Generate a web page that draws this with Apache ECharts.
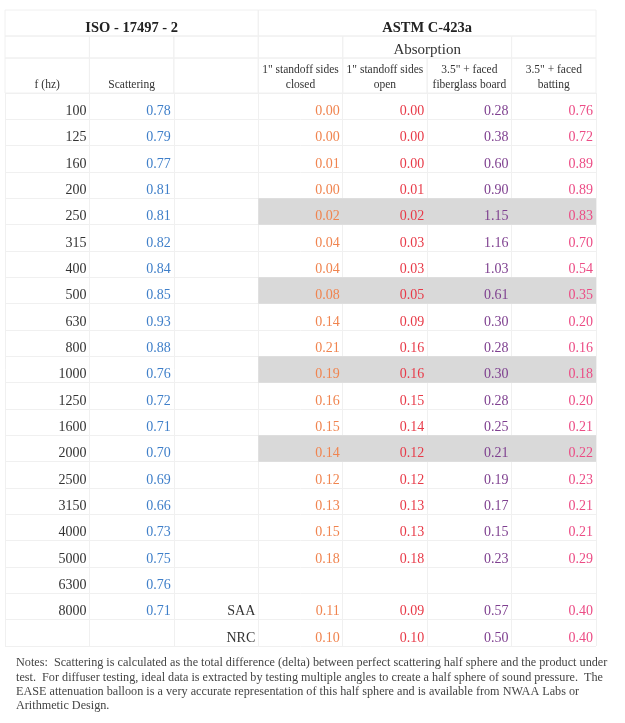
<!DOCTYPE html>
<html><head><meta charset="utf-8">
<script src="https://cdn.jsdelivr.net/npm/echarts@6.0.0/dist/echarts.min.js"></script>
<style>html,body{margin:0;padding:0;background:#fff}#c{width:625px;height:723px}</style>
</head><body><div id="c"></div>
<script>
// ---------- data ----------
const frequencies = ['100','125','160','200','250','315','400','500','630','800','1000','1250','1600','2000','2500','3150','4000','5000','6300','8000',''];
const scattering = [0.78,0.79,0.77,0.81,0.81,0.82,0.84,0.85,0.93,0.88,0.76,0.72,0.71,0.70,0.69,0.66,0.73,0.75,0.76,0.71,null];
const summaryLabels = ['','','','','','','','','','','','','','','','','','','','SAA','NRC'];
const standoffClosed = [0.00,0.00,0.01,0.00,0.02,0.04,0.04,0.08,0.14,0.21,0.19,0.16,0.15,0.14,0.12,0.13,0.15,0.18,null,0.11,0.10];
const standoffOpen   = [0.00,0.00,0.00,0.01,0.02,0.03,0.03,0.05,0.09,0.16,0.16,0.15,0.14,0.12,0.12,0.13,0.13,0.18,null,0.09,0.10];
const fiberglassBoard= [0.28,0.38,0.60,0.90,1.15,1.16,1.03,0.61,0.30,0.28,0.30,0.28,0.25,0.21,0.19,0.17,0.15,0.23,null,0.57,0.50];
const facedBatting   = [0.76,0.72,0.89,0.89,0.83,0.70,0.54,0.35,0.20,0.16,0.18,0.20,0.21,0.22,0.23,0.21,0.21,0.29,null,0.40,0.40];
const highlightedRows = ['250','500','1000','2000'];
// header cells: [text, firstColumn, endColumn]
const headerRow1 = [['ISO - 17497 - 2',0,3],['ASTM C-423a',3,7]];
const headerRow2 = [['',0,1],['',1,2],['',2,3],['',3,4],['Absorption',4,6],['',6,7]];
const headerRow3 = [['f (hz)',0,1],['Scattering',1,2],['',2,3],['1" standoff sides\nclosed',3,4],['1" standoff sides\nopen',4,5],['3.5" + faced\nfiberglass board',5,6],['3.5" + faced\nbatting',6,7]];
const notesText = 'Notes:  Scattering is calculated as the total difference (delta) between perfect scattering half sphere and the product under\ntest.  For diffuser testing, ideal data is extracted by testing multiple angles to create a half sphere of sound pressure.  The\nEASE attenuation balloon is a very accurate representation of this half sphere and is available from NWAA Labs or\nArithmetic Design.';

// ---------- styling ----------
const FONT = '"Liberation Serif", "Times New Roman", serif';
const LINE = '#f0f0f0';
const TXT = '#333333';

const chart = echarts.init(document.getElementById('c'), null, {renderer: 'canvas'});

const gridBoxes = [
  {left: 5, top: 10, width: 591, height: 26},
  {left: 5, top: 36, width: 591, height: 22},
  {left: 5, top: 58, width: 591, height: 35},
  {left: 5, top: 93, width: 591, height: 553}
];

function xAx(i, split) {
  return {type: 'value', gridIndex: i, min: 0, max: 7, interval: 1,
    axisLine: {show: false}, axisTick: {show: false}, axisLabel: {show: false},
    splitLine: {show: split, lineStyle: {color: LINE, width: 1}}};
}
function yAx(i, max, split) {
  return {type: 'value', gridIndex: i, min: 0, max: max, interval: 1, inverse: true,
    axisLine: {show: false}, axisTick: {show: false}, axisLabel: {show: false},
    splitLine: {show: split, lineStyle: {color: LINE, width: 1}}};
}

function headerSeries(gi, cells, textStyle, multi) {
  return {
    type: 'custom', xAxisIndex: gi, yAxisIndex: gi, z: 3, silent: true,
    data: cells.map(c => [c[1], c[2]]),
    renderItem(params, api) {
      const c = cells[params.dataIndex];
      const p0 = api.coord([c[1], 0]);
      const p1 = api.coord([c[2], 1]);
      const children = [{
        type: 'rect',
        shape: {x: p0[0], y: p0[1], width: p1[0] - p0[0], height: p1[1] - p0[1]},
        style: {fill: null, stroke: LINE, lineWidth: 1}
      }];
      if (c[0]) {
        children.push({
          type: 'text',
          style: Object.assign({
            text: c[0], x: (p0[0] + p1[0]) / 2,
            y: multi ? p1[1] - 1 : p1[1] - 8,
            align: 'center', verticalAlign: multi ? 'bottom' : 'middle',
            fill: TXT, fontFamily: FONT
          }, textStyle)
        });
      }
      return {type: 'group', children};
    }
  };
}

function columnSeries(col, values, color) {
  return {
    type: 'custom', xAxisIndex: 3, yAxisIndex: 3, z: 5, silent: true,
    data: values.map((v, i) => [col, i]),
    renderItem(params, api) {
      const v = values[params.dataIndex];
      if (v === null || v === '') return null;
      const p = api.coord([col + 1, params.dataIndex + 1]);
      return {
        type: 'text',
        style: {
          text: typeof v === 'number' ? v.toFixed(2) : v,
          x: p[0] - 3, y: p[1] - 8, align: 'right', verticalAlign: 'middle',
          fill: color, fontSize: 14, fontFamily: FONT
        }
      };
    }
  };
}

const highlightIdx = frequencies.map((f, i) => highlightedRows.includes(f) ? i : -1).filter(i => i >= 0);

const option = {
  backgroundColor: '#ffffff',
  animation: false,
  grid: gridBoxes,
  xAxis: [xAx(0, false), xAx(1, false), xAx(2, false), xAx(3, true)],
  yAxis: [yAx(0, 1, false), yAx(1, 1, false), yAx(2, 1, false), yAx(3, 21, true)],
  graphic: [{
    type: 'text', left: 16, top: 656, silent: true,
    style: {text: notesText, fontSize: 12.2, lineHeight: 14.3, fontFamily: FONT, fill: '#444444'}
  }],
  series: [
    headerSeries(0, headerRow1, {fontSize: 14.5, fontWeight: 'bold', fill: '#222'}, false),
    headerSeries(1, headerRow2, {fontSize: 15}, false),
    headerSeries(2, headerRow3, {fontSize: 11.5, lineHeight: 15}, true),
    {
      type: 'custom', xAxisIndex: 3, yAxisIndex: 3, z: 2, silent: true,
      data: highlightIdx.map(i => [3, i]),
      renderItem(params, api) {
        const r = highlightIdx[params.dataIndex];
        const p0 = api.coord([3, r]);
        const p1 = api.coord([7, r + 1]);
        return {type: 'rect', shape: {x: p0[0], y: p0[1], width: p1[0] - p0[0], height: p1[1] - p0[1]},
          style: {fill: '#d9d9d9'}};
      }
    },
    columnSeries(0, frequencies, TXT),
    columnSeries(1, scattering, '#3f7fc9'),
    columnSeries(2, summaryLabels, TXT),
    columnSeries(3, standoffClosed, '#f0844f'),
    columnSeries(4, standoffOpen, '#e83a48'),
    columnSeries(5, fiberglassBoard, '#7e3f8f'),
    columnSeries(6, facedBatting, '#ec4c85')
  ]
};
chart.setOption(option);
</script>
</body></html>
